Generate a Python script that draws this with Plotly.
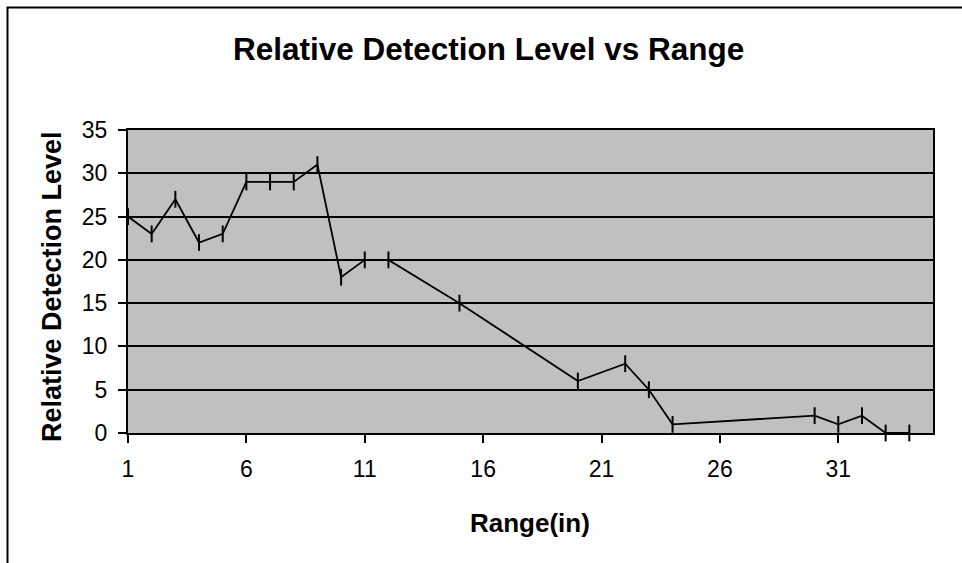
import plotly.graph_objects as go

range_in = [1, 2, 3, 4, 5, 6, 7, 8, 9, 10, 11, 12, 15, 20, 22, 23, 24, 30, 31, 32, 33, 34]
detection = [25, 23, 27, 22, 23, 29, 29, 29, 31, 18, 20, 20, 15, 6, 8, 5, 1, 2, 1, 2, 0, 0]

x_ticks = [1, 6, 11, 16, 21, 26, 31]
y_ticks = [0, 5, 10, 15, 20, 25, 30, 35]

FONT = "Liberation Sans, Arial, sans-serif"
W, H = 962, 563
L, R, T, B = 128, 29, 130, 130
PW, PH = W - L - R, H - T - B

def px(x):
    return (x - L) / PW

def py(y):
    return (H - B - y) / PH

fig = go.Figure()
fig.add_trace(go.Scatter(
    x=range_in, y=detection, mode="lines+markers",
    line=dict(color="black", width=1.8),
    marker=dict(symbol="line-ns", size=12, line=dict(color="black", width=2)),
    cliponaxis=False, showlegend=False,
))

fig.update_layout(
    width=W, height=H,
    margin=dict(l=L, r=R, t=T, b=B),
    paper_bgcolor="white", plot_bgcolor="#C0C0C0",
    font=dict(family=FONT, color="black"),
    xaxis=dict(range=[1, 35], tickvals=x_ticks, ticktext=[str(v) for v in x_ticks],
               showgrid=False, zeroline=False, showline=True, linecolor="black", linewidth=2,
               mirror=True, ticks="outside", ticklen=8, tickwidth=2, tickcolor="black",
               tickfont=dict(size=23, family=FONT), ticklabelstandoff=6),
    yaxis=dict(range=[0, 35], tickvals=y_ticks, ticktext=[str(v) for v in y_ticks],
               showgrid=True, gridcolor="black", gridwidth=1.5, zeroline=False,
               showline=True, linecolor="black", linewidth=2, mirror=True,
               ticks="outside", ticklen=8, tickwidth=2, tickcolor="black",
               tickfont=dict(size=23, family=FONT), ticklabelstandoff=6),
    shapes=[dict(type="rect", xref="paper", yref="paper",
                 x0=px(7.5), x1=px(990), y0=py(600), y1=py(7.5),
                 line=dict(color="black", width=2), fillcolor="rgba(0,0,0,0)", layer="below")],
    annotations=[
        dict(text="<b>Relative Detection Level vs Range</b>", xref="paper", yref="paper",
             x=px(488), y=py(49), xanchor="center", yanchor="middle", showarrow=False,
             font=dict(size=31.5, family=FONT)),
        dict(text="<b>Range(in)</b>", xref="paper", yref="paper",
             x=px(530), y=py(523), xanchor="center", yanchor="middle", showarrow=False,
             font=dict(size=26, family=FONT)),
        dict(text="<b>Relative Detection Level</b>", xref="paper", yref="paper",
             x=px(52), y=py(287), xanchor="center", yanchor="middle", showarrow=False,
             textangle=-90, font=dict(size=27, family=FONT)),
    ],
)

fig.write_html("out.html")
